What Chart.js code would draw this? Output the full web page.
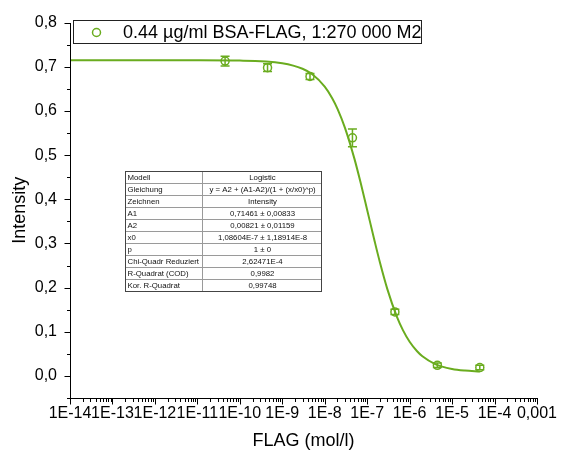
<!DOCTYPE html>
<html><head><meta charset="utf-8">
<script src="https://cdn.jsdelivr.net/npm/chart.js@4.4.0/dist/chart.umd.min.js"></script>
<style>html,body{margin:0;padding:0;background:#fff;}#wrap{width:563px;height:459px;position:relative;background:#fff}</style>
</head><body><div id="wrap"><canvas id="c" width="563" height="459"></canvas></div>
<script>
// ---- data ----
const seriesLabel = '0.44 µg/ml BSA-FLAG, 1:270 000 M2';
const concentrations = [4.5e-11, 4.5e-10, 4.5e-9, 4.5e-8, 4.5e-7, 4.5e-6, 4.5e-5];
const intensity = [0.713, 0.698, 0.678, 0.539, 0.145, 0.024, 0.019];
const intensityErr = [0.011, 0.009, 0.007, 0.020, 0.006, 0.005, 0.005];
// logistic fit curve
const fitX = [1e-14, 1e-11, 1e-10, 1e-9, 3e-9, 5e-9, 1e-8, 1.5e-8, 2e-8, 3e-8, 5e-8, 7e-8, 1e-7, 1.5e-7, 2e-7, 3e-7, 5e-7, 7e-7, 1e-6, 1.5e-6, 2e-6, 4e-6, 1e-5, 2e-5, 4.5e-5];
const fitY = [0.7146, 0.7145, 0.7140, 0.7081, 0.6956, 0.6835, 0.6551, 0.6289, 0.6048, 0.5618, 0.4920, 0.4378, 0.3759, 0.3049, 0.2568, 0.1960, 0.1342, 0.1031, 0.0774, 0.0559, 0.0446, 0.0269, 0.0158, 0.0120, 0.0100];
const xTickValues = [1e-14, 1e-13, 1e-12, 1e-11, 1e-10, 1e-9, 1e-8, 1e-7, 1e-6, 1e-5, 1e-4, 1e-3];
const xTickLabels = ['1E-14', '1E-13', '1E-12', '1E-11', '1E-10', '1E-9', '1E-8', '1E-7', '1E-6', '1E-5', '1E-4', '0,001'];
const yTickValues = [0, 0.1, 0.2, 0.3, 0.4, 0.5, 0.6, 0.7, 0.8];
const yTickLabels = ['0,0', '0,1', '0,2', '0,3', '0,4', '0,5', '0,6', '0,7', '0,8'];
const xAxisTitle = 'FLAG (mol/l)';
const yAxisTitle = 'Intensity';
const tableLabels = ['Modell', 'Gleichung', 'Zeichnen', 'A1', 'A2', 'x0', 'p', 'Chi-Quadr Reduziert', 'R-Quadrat (COD)', 'Kor. R-Quadrat'];
const tableValues = ['Logistic', 'y = A2 + (A1-A2)/(1 + (x/x0)^p)', 'Intensity', '0,71461 ± 0,00833', '0,00821 ± 0,01159', '1,08604E-7 ± 1,18914E-8', '1 ± 0', '2,62471E-4', '0,9982', '0,99748'];

const GREEN = '#6aac1f';
const FONT = "'Liberation Sans', Arial, sans-serif";
Chart.defaults.font.family = FONT;
Chart.defaults.color = '#000';

const decor = {
  id: 'decor',
  afterDatasetsDraw(chart) {
    const ctx = chart.ctx, xs = chart.scales.x, ys = chart.scales.y;
    ctx.save();
    ctx.strokeStyle = GREEN; ctx.lineWidth = 1.5;
    concentrations.forEach((c, i) => {
      const px = xs.getPixelForValue(c);
      const y1 = ys.getPixelForValue(intensity[i] + intensityErr[i]);
      const y2 = ys.getPixelForValue(intensity[i] - intensityErr[i]);
      ctx.beginPath();
      ctx.moveTo(px, y1); ctx.lineTo(px, y2);
      ctx.moveTo(px - 4.5, y1); ctx.lineTo(px + 4.5, y1);
      ctx.moveTo(px - 4.5, y2); ctx.lineTo(px + 4.5, y2);
      ctx.stroke();
    });
    ctx.restore();
  },
  afterDraw(chart) {
    const ctx = chart.ctx, xs = chart.scales.x, ys = chart.scales.y;
    const a = chart.chartArea;
    ctx.save();
    ctx.strokeStyle = '#000'; ctx.lineWidth = 1;
    const L = Math.round(a.left) + 0.5, B = Math.round(a.bottom) + 0.5;
    ctx.beginPath();
    ctx.moveTo(L, Math.round(a.top)); ctx.lineTo(L, B);
    ctx.moveTo(L - 0.5, B); ctx.lineTo(Math.round(a.right) + 1, B);
    // y ticks
    for (let k = 0; k <= 17; k++) {
      const v = -0.05 + k * 0.05;
      const py = Math.round(ys.getPixelForValue(v)) + 0.5;
      const major = k % 2 === 1;
      ctx.moveTo(L, py); ctx.lineTo(L - (major ? 6 : 3.5), py);
    }
    // x ticks
    for (let e = -14; e <= -3; e++) {
      const px = Math.round(xs.getPixelForValue(Math.pow(10, e))) + 0.5;
      ctx.moveTo(px, B); ctx.lineTo(px, B + 6);
      if (e < -3) {
        for (let m = 2; m <= 9; m++) {
          const pm = Math.round(xs.getPixelForValue(m * Math.pow(10, e))) + 0.5;
          ctx.moveTo(pm, B); ctx.lineTo(pm, B + 3.5);
        }
      }
    }
    ctx.stroke();

    // legend
    ctx.lineWidth = 1; ctx.strokeStyle = '#222';
    ctx.strokeRect(73.5, 20.5, 348, 23);
    ctx.strokeStyle = GREEN; ctx.lineWidth = 1.5;
    ctx.beginPath(); ctx.arc(96.5, 32.5, 4, 0, Math.PI * 2); ctx.stroke();
    ctx.fillStyle = '#000';
    ctx.font = '18px ' + FONT;
    ctx.textAlign = 'left'; ctx.textBaseline = 'middle';
    ctx.fillText(chart.data.datasets[1].label, 123, 33);

    // table
    const tx = 125, ty = 171, tw = 196, rh = 12, cw = 77;
    const th = rh * tableLabels.length;
    ctx.fillStyle = '#fff';
    ctx.fillRect(tx, ty, tw, th);
    ctx.strokeStyle = '#9a9a9a'; ctx.lineWidth = 1;
    ctx.beginPath();
    for (let r = 1; r < tableLabels.length; r++) {
      ctx.moveTo(tx, ty + r * rh + 0.5); ctx.lineTo(tx + tw, ty + r * rh + 0.5);
    }
    ctx.moveTo(tx + cw + 0.5, ty); ctx.lineTo(tx + cw + 0.5, ty + th);
    ctx.stroke();
    ctx.strokeStyle = '#444';
    ctx.strokeRect(tx + 0.5, ty + 0.5, tw, th);
    ctx.fillStyle = '#111';
    ctx.font = '7.8px ' + FONT;
    ctx.textBaseline = 'middle';
    tableLabels.forEach((t, r) => {
      ctx.textAlign = 'left';
      ctx.fillText(t, tx + 2.5, ty + r * rh + rh / 2 + 1);
      ctx.textAlign = 'center';
      ctx.fillText(tableValues[r], tx + cw + (tw - cw) / 2 + 1, ty + r * rh + rh / 2 + 1);
    });
    ctx.restore();
  }
};

new Chart(document.getElementById('c'), {
  data: {
    datasets: [
      { type: 'line', label: 'fit', data: fitX.map((x, i) => ({ x, y: fitY[i] })),
        borderColor: GREEN, borderWidth: 2, pointRadius: 0, cubicInterpolationMode: 'monotone', fill: false, order: 2 },
      { type: 'scatter', label: seriesLabel, data: concentrations.map((x, i) => ({ x, y: intensity[i] })),
        pointStyle: 'circle', pointRadius: 4, borderColor: GREEN, borderWidth: 1.5, backgroundColor: 'rgba(0,0,0,0)', order: 1 }
    ]
  },
  options: {
    responsive: false, animation: false, devicePixelRatio: 1,
    layout: { padding: { top: 19, right: 22, left: 0, bottom: 0 } },
    plugins: { legend: { display: false }, tooltip: { enabled: false } },
    scales: {
      x: {
        type: 'logarithmic', min: 1e-14, max: 1e-3,
        afterBuildTicks: s => { s.ticks = xTickValues.map(v => ({ value: v })); },
        afterFit: s => { s.height = 61; },
        ticks: { autoSkip: false, maxRotation: 0, minRotation: 0, font: { size: 16 }, padding: 6, color: '#000',
                 callback: (v, i) => xTickLabels[i] },
        grid: { display: false, drawTicks: false },
        border: { display: false },
        title: { display: true, text: xAxisTitle, font: { size: 18 }, color: '#000', padding: { top: 0, bottom: 7 } }
      },
      y: {
        type: 'linear', min: -0.05, max: 0.8,
        afterBuildTicks: s => { s.ticks = yTickValues.map(v => ({ value: v })); },
        afterFit: s => { s.width = 70; },
        ticks: { font: { size: 16 }, padding: 13, color: '#000', callback: (v, i) => yTickLabels[i] },
        grid: { display: false, drawTicks: false },
        border: { display: false },
        title: { display: true, text: yAxisTitle, font: { size: 18 }, color: '#000', padding: { top: 9, bottom: 0 } }
      }
    }
  },
  plugins: [decor]
});
</script>
</body></html>
